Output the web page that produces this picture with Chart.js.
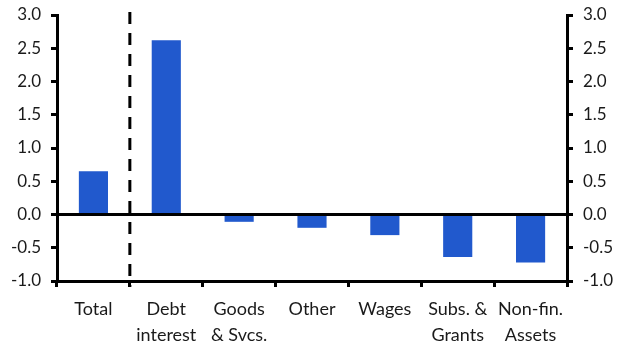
<!DOCTYPE html>
<html><head><meta charset="utf-8">
<script src="https://cdn.jsdelivr.net/npm/chart.js@4"></script>
<style>html,body{margin:0;padding:0;background:#fff;}#wrap{width:625px;height:351px;}</style>
</head><body><div id="wrap"><canvas id="c" width="625" height="351"></canvas></div>
<script>
const categories = [['Total'], ['Debt','interest'], ['Goods','& Svcs.'], ['Other'], ['Wages'], ['Subs. &','Grants'], ['Non-fin.','Assets']];
const values = [0.65, 2.62, -0.11, -0.2, -0.31, -0.64, -0.72];
const yMin = -1.0, yMax = 3.0, yStep = 0.5;
const dividerAfterIndex = 0;

const dividerPlugin = {
  id: 'divider',
  afterDatasetsDraw(chart) {
    const x = chart.scales.x, y = chart.scales.y;
    const px = (x.getPixelForValue(dividerAfterIndex) + x.getPixelForValue(dividerAfterIndex + 1)) / 2;
    const ctx = chart.ctx;
    ctx.save();
    ctx.strokeStyle = '#000';
    ctx.lineWidth = 3;
    ctx.setLineDash([12, 9]);
    ctx.beginPath();
    ctx.moveTo(px, y.top - 3);
    ctx.lineTo(px, y.bottom + 6);
    ctx.stroke();
    ctx.restore();
  }
};

const font = {family: 'Lato, "Open Sans", sans-serif', size: 17};
function yAxis(pos, w) {
  return {
    position: pos, min: yMin, max: yMax,
    afterFit(s) { s.width = w; s.paddingTop = 0; s.paddingBottom = 0; },
    ticks: { stepSize: yStep, color: '#1a1a1a', font, padding: 10,
      callback: v => v.toFixed(1) },
    border: { display: true, color: '#000', width: 3 },
    grid: { drawOnChartArea: pos === 'left',
      color: c => (c.tick && c.tick.value === 0) ? '#000' : 'rgba(0,0,0,0)',
      lineWidth: 3, tickColor: '#000', tickWidth: 3, tickLength: 6 }
  };
}

new Chart(document.getElementById('c'), {
  type: 'bar',
  data: { labels: categories, datasets: [{ data: values, backgroundColor: '#2159CD',
    categoryPercentage: 0.5, barPercentage: 0.8 }] },
  options: {
    responsive: false, animation: false,
    layout: { padding: { top: 15, left: 0, right: 0, bottom: 0 } },
    plugins: { legend: { display: false }, tooltip: { enabled: false } },
    scales: {
      x: {
        afterFit(s) { s.height = 70; },
        ticks: { color: '#1a1a1a', font: {...font, size: 18, lineHeight: 1.4}, padding: 10, maxRotation: 0, autoSkip: false },
        border: { display: true, color: '#000', width: 3 },
        grid: { drawOnChartArea: false, offset: true, tickColor: '#000', tickWidth: 3, tickLength: 6 }
      },
      y: yAxis('left', 57),
      y2: yAxis('right', 58)
    }
  },
  plugins: [dividerPlugin]
});
</script></body></html>
